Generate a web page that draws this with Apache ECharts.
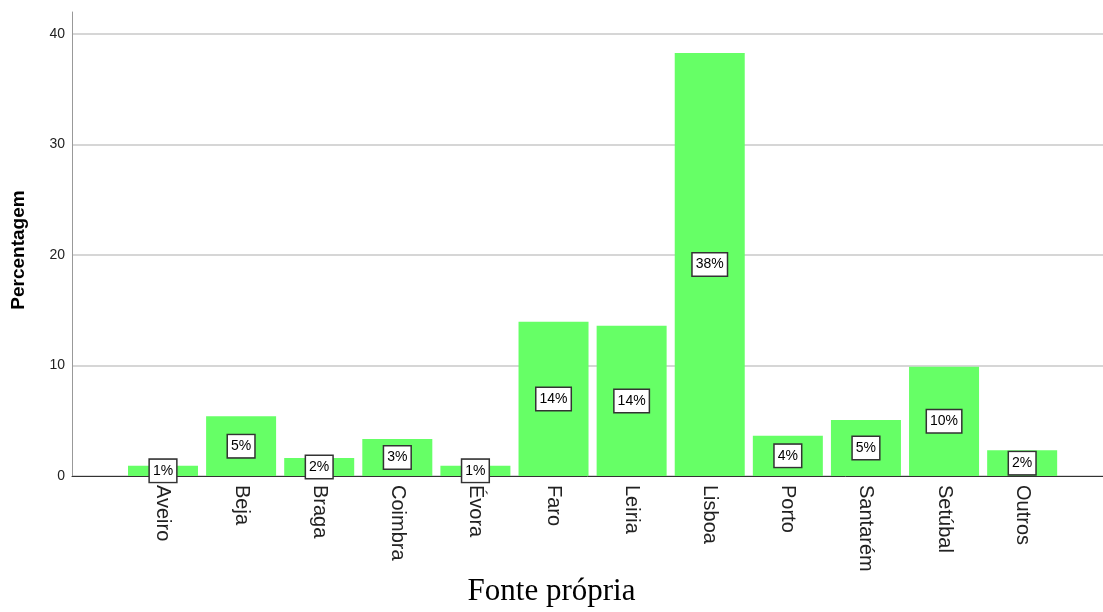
<!DOCTYPE html>
<html><head><meta charset="utf-8">
<script src="https://cdn.jsdelivr.net/npm/echarts@6/dist/echarts.min.js"></script>
<style>html,body{margin:0;padding:0;background:#fff}#c{width:1103px;height:612px}</style>
</head><body><div id="c"></div>
<script>
const categories = ["Aveiro","Beja","Braga","Coimbra","Évora","Faro","Leiria","Lisboa","Porto","Santarém","Setúbal","Outros"];
const values = [0.93, 5.4, 1.63, 3.35, 0.93, 13.96, 13.6, 38.3, 3.65, 5.07, 9.9, 2.33];
const yTicks = [0, 10, 20, 30, 40];

const chart = echarts.init(document.getElementById('c'));
chart.setOption({
  animation: false,
  backgroundColor: '#fff',
  title: {
    text: 'Fonte própria', left: 'center', bottom: 0,
    textStyle: {fontFamily: 'Liberation Serif', fontSize: 31, fontWeight: 'normal', color: '#000'}
  },
  grid: {left: 72, right: 0, top: 12, bottom: 136},
  xAxis: {
    type: 'value', min: -1.165, max: 12.035,
    splitLine: {show: false},
    axisTick: {show: false},
    axisLine: {show: true, onZero: false, lineStyle: {color: '#333', width: 1}},
    axisLabel: {
      customValues: categories.map((c, i) => i),
      formatter: v => categories[Math.round(v)] || '',
      rotate: -90, margin: 9,
      fontFamily: 'Liberation Sans', fontSize: 20, color: '#222'
    }
  },
  yAxis: {
    type: 'value', min: 0, max: 42, interval: 10,
    name: 'Percentagem', nameLocation: 'middle', nameGap: 44,
    nameTextStyle: {fontFamily: 'Liberation Sans', fontSize: 19, fontWeight: 'bold', color: '#000', padding: [0, 12, 0, 0]},
    axisLine: {show: true, onZero: false, lineStyle: {color: '#999'}},
    axisTick: {show: false},
    axisLabel: {
      margin: 7, fontFamily: 'Liberation Sans', fontSize: 14, color: '#222',
      formatter: v => (yTicks.indexOf(v) >= 0 ? String(v) : '')
    },
    splitLine: {show: true, showMaxLine: false, lineStyle: {color: '#c8c8c8', width: 1.5}}
  },
  series: [{
    type: 'bar',
    data: values.map((v, i) => [i, v]),
    barWidth: 70,
    itemStyle: {color: '#66ff66'},
    label: {
      show: true, position: 'inside',
      formatter: p => Math.round(p.value[1]) + '%',
      fontFamily: 'Liberation Sans', fontSize: 14, color: '#000',
      backgroundColor: '#fff', borderColor: '#333', borderWidth: 1.5,
      padding: [4, 3]
    }
  }]
});
</script></body></html>
